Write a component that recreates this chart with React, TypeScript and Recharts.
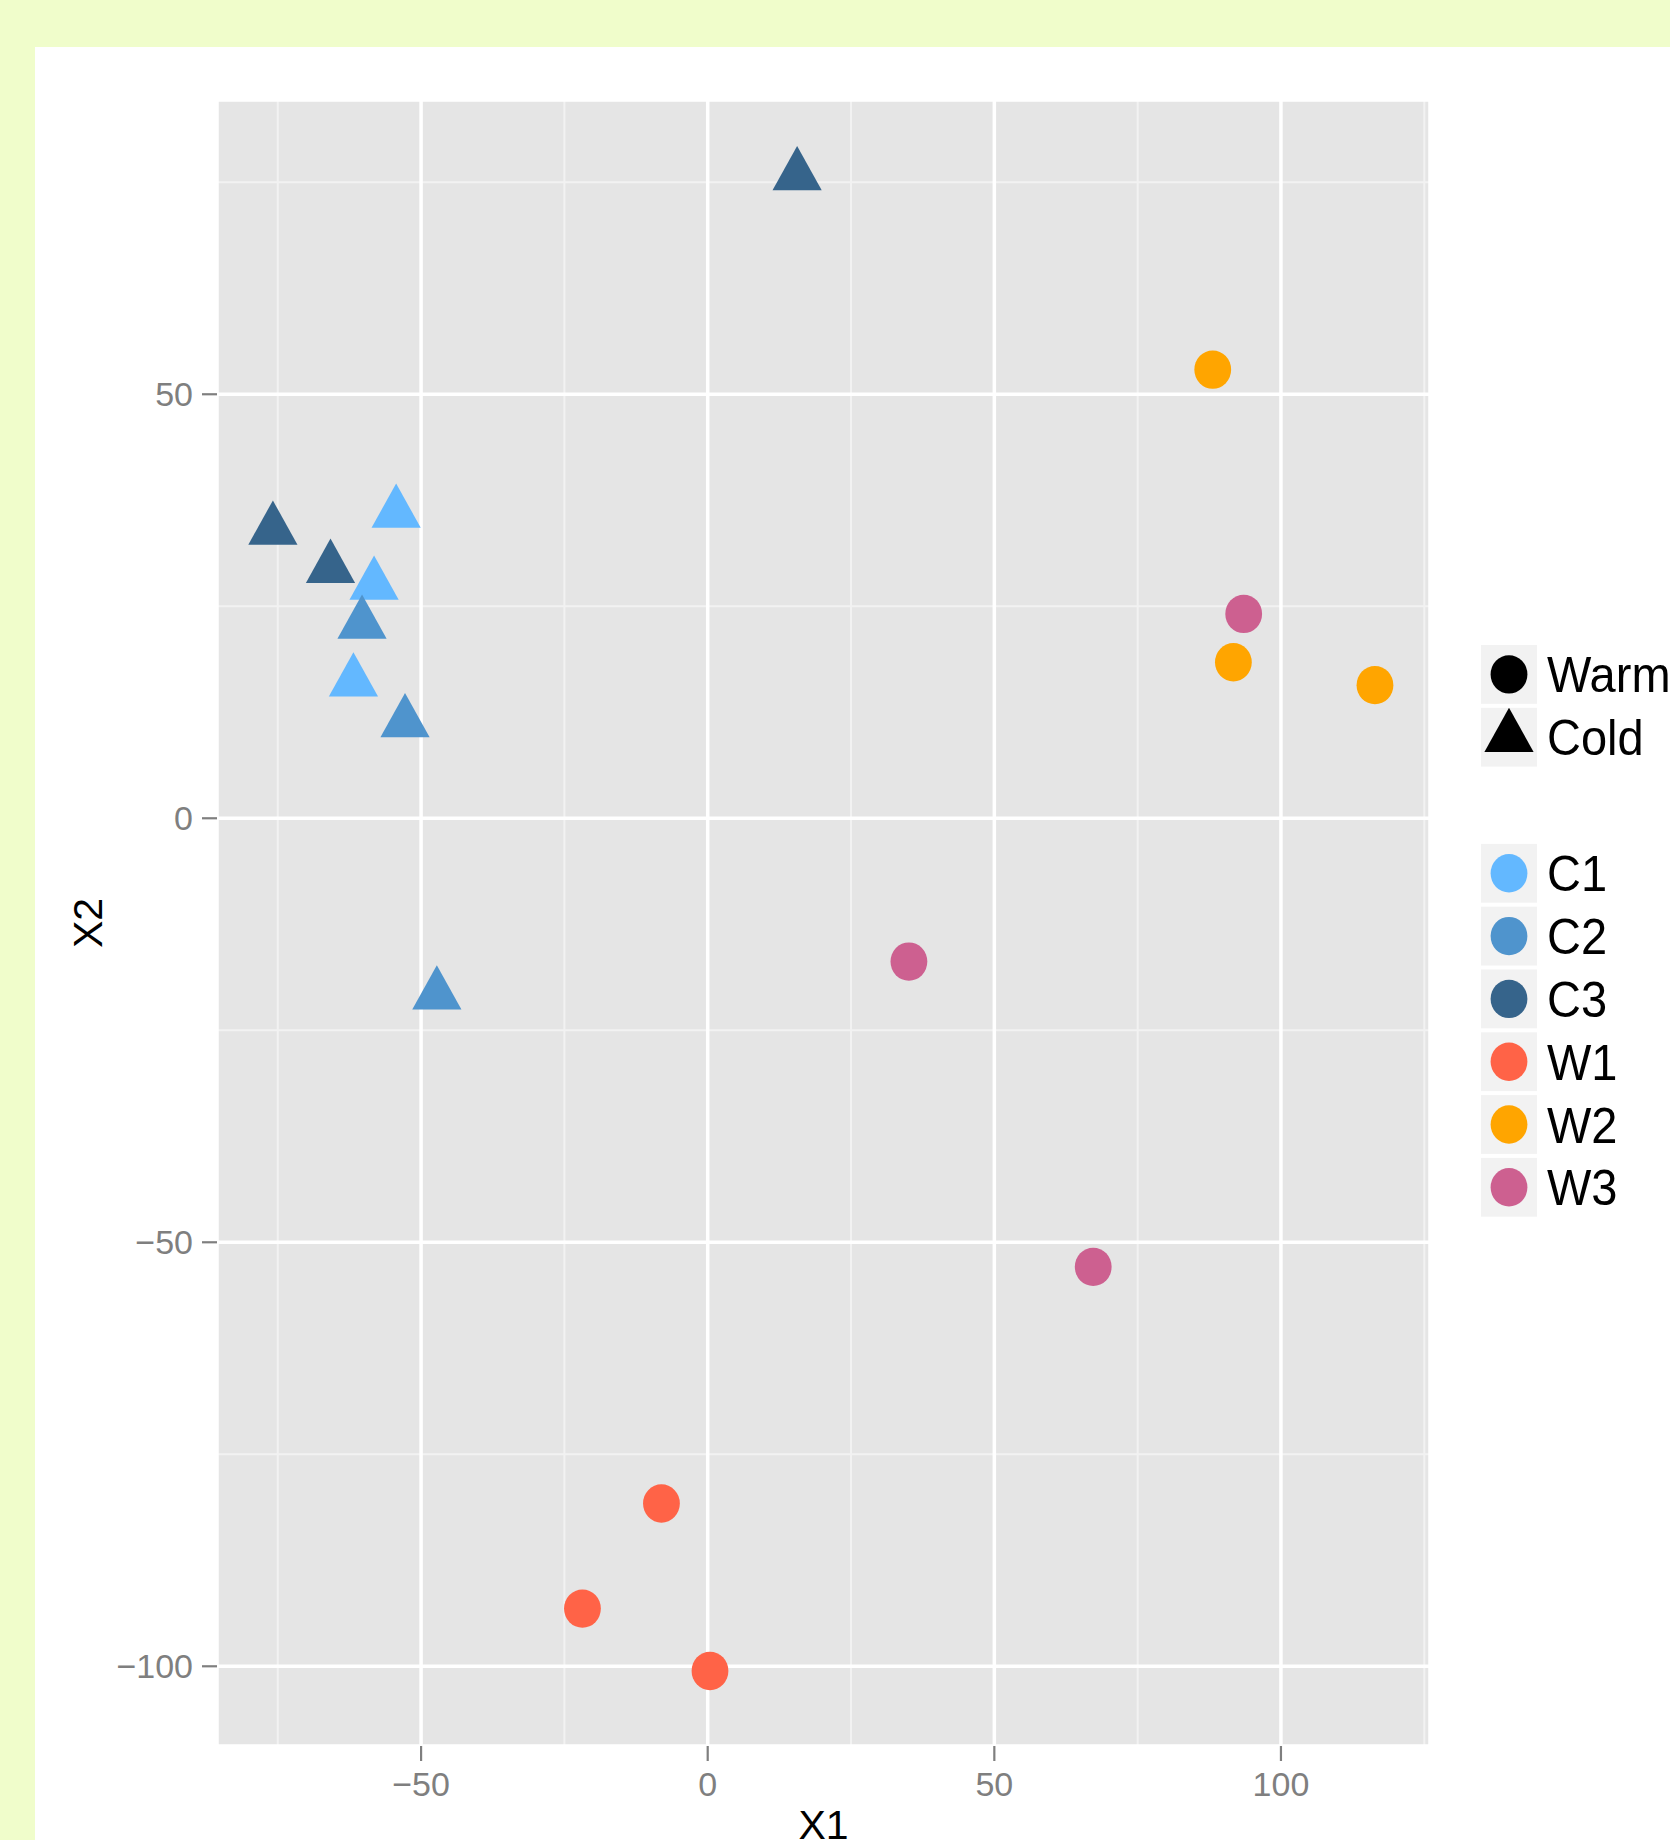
import React from 'react';
import {
  ScatterChart,
  Scatter,
  XAxis,
  YAxis,
  CartesianGrid,
  Legend,
} from 'recharts';

// ---- data ----
const C1_POINTS = [
  { x: -54.35, y: 36.0 },
  { x: -58.2, y: 27.5 },
  { x: -61.8, y: 16.1 },
];
const C2_POINTS = [
  { x: -60.3, y: 22.9 },
  { x: -52.8, y: 11.3 },
  { x: -47.25, y: -20.8 },
];
const C3_POINTS = [
  { x: -75.85, y: 34.0 },
  { x: -65.8, y: 29.5 },
  { x: 15.6, y: 75.8 },
];
const W1_POINTS = [
  { x: -8.07, y: -80.8 },
  { x: -21.85, y: -93.2 },
  { x: 0.4, y: -100.55 },
];
const W2_POINTS = [
  { x: 88.1, y: 52.9 },
  { x: 91.7, y: 18.4 },
  { x: 116.4, y: 15.7 },
];
const W3_POINTS = [
  { x: 93.5, y: 24.1 },
  { x: 35.1, y: -16.9 },
  { x: 67.25, y: -52.9 },
];

const CATEGORIES = ['C1', 'C2', 'C3', 'W1', 'W2', 'W3'];
const CATEGORY_COLORS = ['#63B8FF', '#4F94CD', '#36648B', '#FF6347', '#FFA500', '#CD6090'];
const CATEGORY_SHAPES = ['triangle', 'triangle', 'triangle', 'circle', 'circle', 'circle'];
const CATEGORY_POINTS = [C1_POINTS, C2_POINTS, C3_POINTS, W1_POINTS, W2_POINTS, W3_POINTS];

const CONDITIONS = ['Warm', 'Cold'];
const CONDITION_SHAPES = ['circle', 'triangle'];

const X_TICKS = [-50, 0, 50, 100];
const Y_TICKS = [50, 0, -50, -100];
const X_MINOR_TICKS = [-75, -25, 25, 75, 125];
const Y_MINOR_TICKS = [75, 25, -25, -75];
const X_DOMAIN = [-85.6, 126.0];
const Y_DOMAIN = [-109.4, 84.7];

// ---- styling ----
const FONT = '"Liberation Sans", Arial, Helvetica, sans-serif';
const TICK_GREY = '#7F7F7F';
const PANEL = '#E5E5E5';
const KEY_BG = '#F2F2F2';
const TRI_HALF_W = 24.6;
const TRI_UP = 29.5;
const TRI_DOWN = 14.8;
const CIRC_RX = 18.4;
const CIRC_RY = 19.2;

const fmt = (v: number) => (v < 0 ? '\u2212' + Math.abs(v) : String(v));

const triPath = (cx: number, cy: number) =>
  `M${cx},${cy - TRI_UP}L${cx + TRI_HALF_W},${cy + TRI_DOWN}L${cx - TRI_HALF_W},${cy + TRI_DOWN}Z`;

const TriangleShape = (props: any) => {
  const { cx, cy, fill } = props;
  if (cx == null || cy == null) return null;
  return <path d={triPath(cx, cy)} fill={fill} />;
};

const CircleShape = (props: any) => {
  const { cx, cy, fill } = props;
  if (cx == null || cy == null) return null;
  return <ellipse cx={cx} cy={cy} rx={CIRC_RX} ry={CIRC_RY} fill={fill} />;
};

const KEY_W = 56;
const KEY_H = 58.8;
const KEY_STEP = 62.8;
const GROUP2_TOP = 198.9;
const LEGEND_FONT = 47;

const LegendKey = ({ top, shape, color, label, id }: any) => {
  const cx = KEY_W / 2;
  const cy = top + KEY_H / 2;
  return (
    <g>
      <defs>
        <clipPath id={id}>
          <rect x={0} y={top} width={KEY_W} height={KEY_H} />
        </clipPath>
      </defs>
      <rect x={0} y={top} width={KEY_W} height={KEY_H} fill={KEY_BG} />
      <g clipPath={`url(#${id})`}>
        {shape === 'circle' ? (
          <ellipse cx={cx} cy={cy} rx={CIRC_RX} ry={CIRC_RY} fill={color} />
        ) : (
          <path d={triPath(cx, cy)} fill={color} />
        )}
      </g>
      <text
        transform={`translate(66 ${cy + 18}) scale(1 1.05)`}
        x={0}
        y={0}
        fontSize={LEGEND_FONT}
        fontFamily={FONT}
        fill="#000000"
      >
        {label}
      </text>
    </g>
  );
};

const renderLegend = () => (
  <svg width={400} height={560} style={{ overflow: 'visible', display: 'block' }}>
    {CONDITIONS.map((c, i) => (
      <LegendKey
        key={c}
        id={`k-cond-${i}`}
        top={i * KEY_STEP}
        shape={CONDITION_SHAPES[i]}
        color="#000000"
        label={c}
      />
    ))}
    {CATEGORIES.map((c, i) => (
      <LegendKey
        key={c}
        id={`k-cat-${i}`}
        top={GROUP2_TOP + i * KEY_STEP}
        shape="circle"
        color={CATEGORY_COLORS[i]}
        label={c}
      />
    ))}
  </svg>
);

const XTitle = (props: any) => {
  const vb = props.viewBox || {};
  return (
    <text
      x={vb.x + vb.width / 2}
      y={vb.y + vb.height}
      textAnchor="middle"
      fontSize={41}
      fontFamily={FONT}
      fill="#000000"
    >
      X1
    </text>
  );
};

const YTitle = (props: any) => {
  const vb = props.viewBox || {};
  const x = vb.x;
  const y = vb.y + vb.height / 2;
  return (
    <text
      x={x}
      y={y}
      transform={`rotate(-90 ${x} ${y})`}
      textAnchor="middle"
      fontSize={41}
      fontFamily={FONT}
      fill="#000000"
    >
      X2
    </text>
  );
};

export default function App() {
  const tickStyle = { fill: TICK_GREY, fontSize: 34, fontFamily: FONT };
  const tickLineStyle = { stroke: TICK_GREY, strokeWidth: 2.2 };
  return (
    <div
      style={{
        position: 'absolute',
        left: 0,
        top: 0,
        width: 1670,
        height: 1840,
        overflow: 'hidden',
        background: '#F0FDCB',
      }}
    >
      <div
        style={{
          position: 'absolute',
          left: 35,
          top: 47,
          width: 1635,
          height: 1793,
          background: '#FFFFFF',
        }}
      />
      <div style={{ position: 'absolute', left: 0, top: 0 }}>
        <ScatterChart
          width={1670}
          height={1840}
          margin={{ top: 100, right: 240, bottom: 1, left: 102 }}
        >
          <XAxis
            xAxisId="minor"
            type="number"
            dataKey="x"
            domain={X_DOMAIN}
            ticks={X_MINOR_TICKS}
            allowDataOverflow
            hide
          />
          <YAxis
            yAxisId="minor"
            type="number"
            dataKey="y"
            domain={Y_DOMAIN}
            ticks={Y_MINOR_TICKS}
            allowDataOverflow
            hide
          />
          <XAxis
            type="number"
            dataKey="x"
            domain={X_DOMAIN}
            ticks={X_TICKS}
            allowDataOverflow
            height={93}
            axisLine={false}
            tickSize={15}
            tickMargin={11}
            tick={tickStyle}
            tickLine={tickLineStyle}
            tickFormatter={fmt}
            label={<XTitle />}
          />
          <YAxis
            type="number"
            dataKey="y"
            domain={Y_DOMAIN}
            ticks={Y_TICKS}
            allowDataOverflow
            width={115}
            axisLine={false}
            tickSize={15}
            tickMargin={9}
            tick={tickStyle}
            tickLine={tickLineStyle}
            tickFormatter={fmt}
            label={<YTitle />}
          />
          <CartesianGrid
            xAxisId="minor"
            yAxisId="minor"
            fill={PANEL}
            fillOpacity={1}
            stroke="#F2F2F2"
            strokeWidth={2}
          />
          <CartesianGrid stroke="#FFFFFF" strokeWidth={3.5} />
          {CATEGORIES.map((c, i) => (
            <Scatter
              key={c}
              name={c}
              data={CATEGORY_POINTS[i]}
              fill={CATEGORY_COLORS[i]}
              shape={CATEGORY_SHAPES[i] === 'triangle' ? TriangleShape : CircleShape}
              isAnimationActive={false}
            />
          ))}
          <Legend
            layout="vertical"
            align="center"
            verticalAlign="middle"
            content={renderLegend}
            wrapperStyle={{ left: 1481, top: 644.5, width: 189, height: 560 }}
          />
        </ScatterChart>
      </div>
    </div>
  );
}
